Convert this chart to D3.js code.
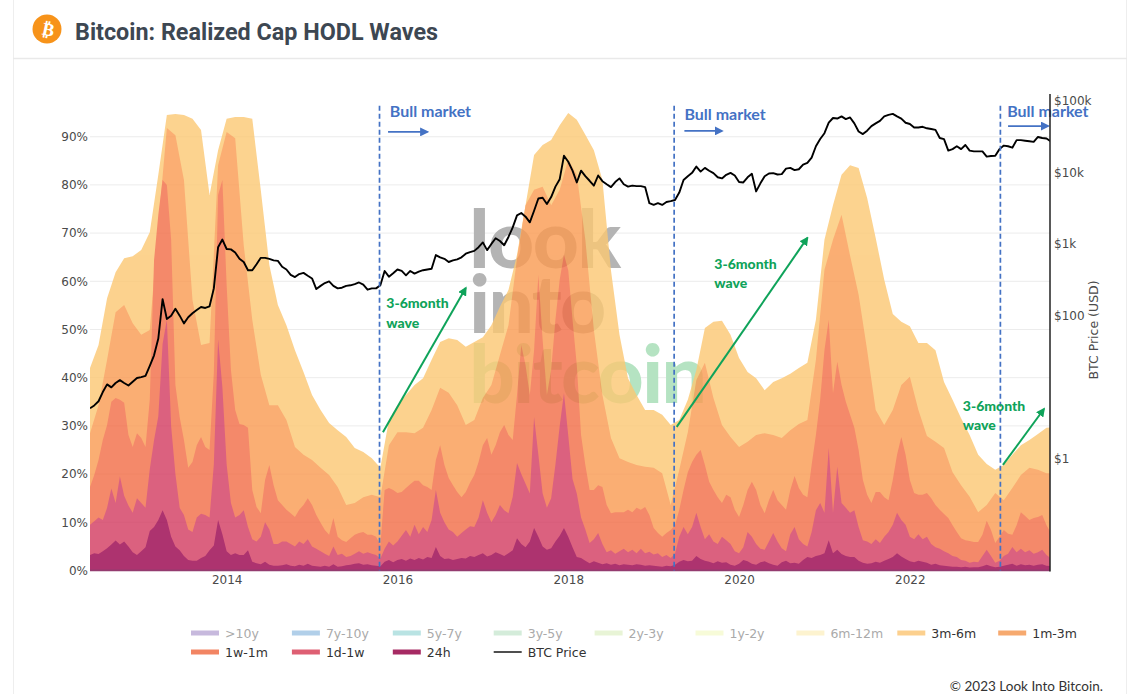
<!DOCTYPE html>
<html><head><meta charset="utf-8">
<script src="https://cdn.jsdelivr.net/npm/d3@7"></script>
<style>
html,body{margin:0;padding:0;background:#fff;overflow:hidden}
svg{display:block}
.domain{display:none}
.axisText text{font-family:"DejaVu Sans",sans-serif;font-size:12px;fill:#4a4a4a}
</style></head><body>
<svg id="chart" width="1140" height="694"></svg>
<script>
// ---- Data (cumulative band tops in %, BTC in USD) ----
const startYear = 2012.4;
const top3m6m = [42,46.8,56.5,61.9,64.8,65.2,66.5,70.2,82.1,94.5,94.7,94.5,93.7,91.4,77.9,87.2,93.7,94.1,94.1,93.7,78.9,63.4,55.1,50.9,45.7,41.2,36.4,33.3,30.6,29.1,27.7,25.4,24.6,23.3,21.3,
31.2,34.3,36.4,38.5,39.9,43.7,47.4,48.2,47.8,46.4,47.4,48.4,50.9,54.7,58.2,65.5,75.8,86.2,88.3,89.3,92.4,94.9,93.5,90.4,87.2,81,62.3,48.9,39.9,36.4,33.3,33.3,32.3,30.2,
31.2,35.4,41.6,50.3,51.6,51.8,48.9,44.1,41.2,39.9,37.4,39.1,39.9,40.8,42,43.1,52,68.6,75.8,82.1,84.1,83.5,77.3,69,60.3,53.2,51.6,50.7,47.2,47.2,45.7,39.1,35.4,31.6,28.1,24,22.1,20.9,21.9,24,26,27.1,28.3,29.6,29.8];
const top1m3m = [28.5,34.3,43.7,53.6,55.1,51.3,48.9,49.9,71.7,91.8,90.3,81,56.1,46.8,47.2,84.1,91,89.7,67.5,52,40.6,34.3,34.3,31.2,25.6,24,22.9,21.3,19.8,17.3,13.6,14,15.2,15.7,15.2,
26,28.7,28.7,28.5,29.6,33.3,37.9,36.9,34.3,30.2,31.2,35.8,38.5,44.7,50.9,64.8,75.8,79,79.6,75.8,79,85.2,82.1,68.6,49.9,36.4,27.5,23.3,22.5,21.9,21.5,21.3,20.2,13.6,
20.9,28.7,39.5,43.1,35.8,30.2,27.7,25.6,26.7,28.1,28.5,28.1,27.5,29.1,30.4,31.2,43.7,62.4,68.6,73.8,65.3,57.2,45.7,33.3,30.2,33.3,38.5,40.2,33.3,27.9,26.7,25.4,20.4,17.7,15.3,12.1,13.6,16.1,14.6,17.1,19.8,21.3,20.9,20.2,20.2];
const top1w1m = [17.3,19.8,22.9,27.1,30.2,35,35.8,35.4,34.8,28.1,25.6,28.5,27.5,25.6,35.4,64.4,73.8,81,80,68.6,38.5,31.8,27.1,21.3,22.5,26,27.7,25.6,25,41,77.9,81,59.2,41.6,33.3,30.4,30.2,29.6,16.7,13.2,11.9,18.8,21.9,17.7,14.6,13.6,12.6,11.9,11.1,12.6,13.6,15,13.6,11.5,9.9,8.4,7.4,10.9,7,6.3,5.9,6.7,7.4,7.8,8,7.4,7.4,7,5.3,
16.7,17.1,16.7,16.1,16.3,17.1,17.9,18.6,18.6,17.7,17.3,16.7,22.9,26,21.9,19.2,17.7,16.3,15.2,16.3,18.2,19.8,22.5,26,27.5,24,26,28.7,30.2,28.1,27.1,36.4,46.8,42.6,36.4,45.7,61.3,47.8,36.4,41.6,52,60.3,65.5,62.3,52,42.6,28.1,21.9,16.7,16.7,17.7,17.3,13.6,11.9,12.1,12.1,12.1,12.6,12.1,13,12.6,13.2,11.5,8.8,7.8,7,7.8,8.4,9.4,12.6,16.7,20.4,22.5,24,25,21.9,18.4,16.7,15.2,14,15.7,15.2,12.6,11.1,13.6,16.7,18.4,16.7,13.6,11.9,14.6,16.7,14.6,13.6,12.6,16.7,19.6,17.1,15.7,15.2,21.9,28.1,35.4,45.7,52,36.8,43.3,38.5,35,32.3,29.6,25,18.8,15.7,14,16.3,16.3,15.2,14.6,18.8,24,27.7,24,18.8,16.1,15.7,15.7,16.1,15,13.6,12.6,11.7,10.9,9.4,8,6.7,6.3,6.1,5.9,5.9,7.4,10.3,8.4,5.7,7,8.4,7.6,7.4,9.4,12.1,11.3,10.5,10.9,11.1,11.5,9.4,7.8];
const top1d1w = [9.5,10.2,11,10.5,13,17,14,19.5,15.5,13.5,12,15,14,13,21,27,32,47,52,30,20,13,11.5,8.5,8,11,11.8,11.5,11,22,48,38,22,14,11,11.5,12.5,9,6.5,6,7,10,8.5,5.5,5.5,6,6,5.5,5,6,5.5,6.5,5,4.5,4,3.5,3,5,3.2,3.5,2.8,3,3.5,4,3.5,3.8,3.5,3.2,2.5,
4.5,6,5.2,6,7.2,8.4,7,9.5,7.5,9,8,10.5,16.7,12,10,8.5,8,7,7.8,8.5,9.2,9,11,14.6,12,10,11.5,13.6,12.5,11.9,15.3,22.3,20,18,16,31.8,24,16,13,15,22,30,36.8,28,19,16,11,8.5,5.7,6.5,7.8,5.5,3.8,4.2,3.5,4,4.5,3.8,4.3,3.6,4.5,3.6,3.9,3.3,3.6,2.8,3.2,2.6,3.5,7,9,7.5,9,12,9,6.5,7.5,6,5.5,7,6.3,5.5,4,3.6,4.8,8,7,5.5,4.5,4.3,6,7.8,6,4.6,4,7.5,9,6.5,5.5,5,8,12.5,14,12,25.4,12,21.5,14,13,12,12.5,9,6.3,6,5.5,6.5,5.7,7,8,9.5,12,10.5,9.5,7,6.5,7.5,6.5,7,5.5,4.8,4.5,4,3.6,3,2.8,2.2,2,1.6,1.8,1.7,3,4.3,3,1.6,2,3,3.5,4.9,3.8,4.5,3.8,4.2,3.5,3.8,4.3,3.2,2.5];
const top24h = [3.2,3.6,3.4,4,4.6,5.4,6.2,5.4,6,5,3.8,3.2,4,4.8,8.2,9,10.5,12.5,10.5,7,5,4.2,3,2.2,2,2,2.6,3,4.2,5.2,10.5,7.5,4,3.2,3.6,3.2,3.2,4.2,1.8,1.5,
1.3,1.8,1.2,1,1,1.1,1.3,1,.9,1.2,1,1.4,1,.9,.8,1,.8,1.3,.8,.9,1.1,1.2,1.4,1.5,1.2,1.3,1.1,1,.9,
1.8,2.2,1.7,2.2,2.4,2,2.5,2.2,2.6,2.3,2.8,2.6,4.9,3,2.4,2.5,2.2,2.4,2.6,2.5,3,2.8,3.2,3.6,2.9,3.2,3.8,3.4,3,3.6,4.2,
6.7,5.5,4.8,6,8.8,7,5,4.3,4.6,6,7.2,8.8,7,4.8,2.8,2.6,2,1.5,1.9,1.6,1.3,1.5,1.2,1.4,1.1,1.3,1.2,1.1,1.3,1.2,1,
1.1,1,.9,.8,1,.9,1.2,1.8,2.2,1.9,2,3,2.4,2,1.8,1.5,1.9,1.6,1.7,1.2,1,1.4,2.2,1.9,1.4,1.2,1.7,1.9,1.5,1.2,1,1.7,2,1.5,1.6,1.4,2.2,2.8,
2.6,3,3.2,3.6,6.3,3.6,4.3,3.4,3,2.8,2.8,2,1.6,1.4,1.5,1.8,1.6,2,2.4,2.8,3.6,2.9,2.4,1.9,1.7,2,1.8,1.6,1.2,1.4,1.1,
1,.9,.8,.8,.7,.8,.6,.7,.7,.9,1.2,.9,.7,.8,1,1.2,1.4,1,1.3,1.1,1.2,1,1.2,1.3,1,.9];
const btcPrice = [5.1,5.6,6.4,8.6,11,10,11.5,12.6,11.5,10.6,12,13.5,13.9,14.5,20,28,48,170,90,100,125,100,78,95,108,120,132,128,135,240,900,1150,850,840,760,620,560,430,430,520,640,640,620,590,580,480,440,370,345,380,395,360,330,235,260,285,300,260,240,245,260,265,275,290,270,230,240,240,265,
420,350,390,440,420,365,420,385,410,430,440,450,700,650,620,560,590,610,650,730,770,800,900,1050,820,1000,1200,1100,960,1250,1700,2500,2700,2400,2000,2900,4300,4400,3600,4500,6300,8000,17000,14000,10500,7200,10500,8800,7600,6500,9000,7500,6800,6200,7300,8200,6800,6300,6500,6400,6400,6200,3700,3500,3700,3500,3850,3950,4100,5200,7800,8800,9800,12000,10200,11500,10500,9700,8500,8200,9200,9800,9000,7300,7200,8500,9500,5400,7000,8800,9600,9700,9300,9400,11200,11500,10700,11000,12800,13500,16000,23000,29000,35000,49000,57000,56000,60000,55000,58000,48000,37000,34000,38000,44000,48000,52000,60000,63000,65000,60000,56000,49000,47000,42000,42000,43000,41000,40000,39000,30000,29000,20000,21000,23000,21000,24000,20000,19500,19500,19500,16500,16800,17000,21000,23500,23000,22000,28000,28000,27500,27000,26500,31000,30000,29500,27000];

const pctTicks = [0,10,20,30,40,50,60,70,80,90];
const yearTicks = [2014,2016,2018,2020,2022];
const priceTicks = [1,100,1000,10000,100000];
const priceLabels = ["$1","$100","$1k","$10k","$100k"];
const legendNames = [">10y","7y-10y","5y-7y","3y-5y","2y-3y","1y-2y","6m-12m","3m-6m","1m-3m","1w-1m","1d-1w","24h","BTC Price"];
const legendColors = ["#c7b9dd","#b1cfe9","#b9e3e3","#d4ecda","#e8f4d6","#f7fbd8","#fdf3cf","#fcd08e","#f6a96f","#f28563","#de5f73","#a62a63","#222222"];
const legendActive = [false,false,false,false,false,false,false,true,true,true,true,true,true];
const bandColors = {m3:"#fcc873",m1:"#fa9a51",w1:"#f26c45",d1:"#d33a60",h24:"#99004c"};
const bullYears = [2015.79,2019.24,2023.06];
const bullLabels = [[2015.91,94.1],[2019.36,93.5],[2023.14,94.1]];
const blueArrows = [[2015.89,91,2016.35,91],[2019.36,91.2,2019.8,91.2],[2023.15,92.2,2023.62,92.2]];
const greenArrows = [[2015.83,28.7,2016.8,58.6],[2019.27,29.8,2020.8,69],[2023.09,21.9,2023.57,33.5]];
const waveLabels = [[2015.87,54.5,50.3],[2019.71,62.6,58.6],[2022.62,33.1,29.1]];
const watermarkWords = [["look",62.8,"#b4b4b4"],["into",49.2,"#b4b4b4"],["bitcoin",34.8,"#b5e3c2"]];

// ---- Layout ----
const L=90,R=1050,B=570.5,T=94;
const svg=d3.select("#chart");
const x=d3.scaleLinear().domain([2012.4,2023.641]).range([L,R]);
const y=d3.scaleLinear().domain([0,98.86]).range([B,T]);
const yP=d3.scaleLog().domain([Math.pow(10,-1.5607),Math.pow(10,5.0907)]).range([B+0.5,T]);
const defs=svg.append("defs");
defs.append("clipPath").attr("id","plot").append("rect").attr("x",L).attr("y",T).attr("width",R-L).attr("height",B-T+1);
function marker(id,color){
  defs.append("marker").attr("id",id).attr("viewBox","0 0 10 10").attr("refX",8).attr("refY",5)
    .attr("markerWidth",9).attr("markerHeight",9).attr("markerUnits","userSpaceOnUse").attr("orient","auto")
    .append("path").attr("d","M0,0L10,5L0,10Z").attr("fill",color);
}
marker("ab","#4472c4");marker("ag","#0fa35a");

// Card
svg.append("line").attr("x1",13.5).attr("x2",13.5).attr("y1",0).attr("y2",694).attr("stroke","#eeeeee");
svg.append("line").attr("x1",1126.5).attr("x2",1126.5).attr("y1",0).attr("y2",694).attr("stroke","#eeeeee");
svg.append("line").attr("x1",13).attr("x2",1127).attr("y1",58.5).attr("y2",58.5).attr("stroke","#e9e9e9").attr("stroke-width",1.5);
svg.append("circle").attr("cx",47).attr("cy",29).attr("r",14.5).attr("fill","#f7931a");
svg.append("text").attr("transform","translate(47,35.5) rotate(12)").attr("text-anchor","middle")
  .attr("font-family","DejaVu Sans").attr("font-weight",700).attr("font-size",18).attr("fill","#fff").text("₿");
svg.append("text").attr("x",75).attr("y",40).attr("font-family","Roboto").attr("font-weight",700)
  .attr("font-size",24.5).attr("fill","#3d4752").attr("textLength",363).attr("lengthAdjust","spacingAndGlyphs").text("Bitcoin: Realized Cap HODL Waves");

// Grid
svg.append("g").selectAll("line").data(pctTicks.slice(1)).join("line")
  .attr("x1",L).attr("x2",R).attr("y1",d=>y(d)).attr("y2",d=>y(d)).attr("stroke","#ececec");

// Watermark sits under the translucent bands
const wm=svg.append("g").attr("font-family","Lato").attr("font-weight",900).attr("font-size",80).attr("letter-spacing","-1.5");
watermarkWords.forEach(w=>wm.append("text").attr("x",x(2016.84)).attr("y",y(w[1])).attr("fill",w[2]).text(w[0]));

// Bands: painted as one translucent group, so no seams and the watermark shows through
const plot=svg.append("g").attr("clip-path","url(#plot)").attr("opacity",.8);
const coarse=(d,i)=>startYear+i*0.1, fine=(d,i)=>startYear+i*0.05;
function band(vals,xf,col){
  plot.append("path").datum(vals).attr("fill",col)
    .attr("d",d3.area().x((d,i)=>x(xf(d,i))).y0(y(0)).y1(d=>y(d)));
}
band(top3m6m,coarse,bandColors.m3);
band(top1m3m,coarse,bandColors.m1);
band(top1w1m,fine,bandColors.w1);
band(top1d1w,fine,bandColors.d1);
band(top24h,fine,bandColors.h24);
plot.append("line").attr("x1",L).attr("x2",R).attr("y1",y(0)).attr("y2",y(0)).attr("stroke","#7a0a4c").attr("stroke-width",2);

// BTC line
const line=svg.append("g").attr("clip-path","url(#plot)");
line.append("path").datum(btcPrice).attr("fill","none").attr("stroke","#000").attr("stroke-width",1.9).attr("stroke-linejoin","round")
  .attr("d",d3.line().x((d,i)=>x(fine(d,i))).y(d=>yP(d)));

// Annotations
svg.append("g").selectAll("line").data(bullYears).join("line")
  .attr("x1",d=>x(d)).attr("x2",d=>x(d)).attr("y1",y(96.4)).attr("y2",y(0))
  .attr("stroke","#4472c4").attr("stroke-width",1.7).attr("stroke-dasharray","5 3");
svg.append("g").selectAll("text").data(bullLabels).join("text")
  .attr("x",d=>x(d[0])).attr("y",d=>y(d[1])).attr("font-family","Lato").attr("font-weight",700).attr("font-size",16).attr("fill","#4472c4").text("Bull market");
svg.append("g").selectAll("line").data(blueArrows).join("line")
  .attr("x1",d=>x(d[0])).attr("y1",d=>y(d[1])).attr("x2",d=>x(d[2])).attr("y2",d=>y(d[3]))
  .attr("stroke","#4472c4").attr("stroke-width",1.6).attr("marker-end","url(#ab)");
svg.append("g").selectAll("line").data(greenArrows).join("line")
  .attr("x1",d=>x(d[0])).attr("y1",d=>y(d[1])).attr("x2",d=>x(d[2])).attr("y2",d=>y(d[3]))
  .attr("stroke","#0fa35a").attr("stroke-width",2).attr("marker-end","url(#ag)");
waveLabels.forEach(d=>{
  const g=svg.append("g").attr("font-family","Lato").attr("font-weight",900).attr("font-size",14).attr("fill","#0fa35a");
  g.append("text").attr("x",x(d[0])).attr("y",y(d[1])).text("3-6month");
  g.append("text").attr("x",x(d[0])).attr("y",y(d[2])).text("wave");
});

// Axes
svg.append("g").attr("class","axisText").attr("transform",`translate(${L},0)`)
  .call(d3.axisLeft(y).tickValues(pctTicks).tickSize(0).tickPadding(2).tickFormat(d=>d+"%"));
svg.append("g").attr("class","axisText").attr("transform",`translate(0,${B})`)
  .call(d3.axisBottom(x).tickValues(yearTicks).tickSize(0).tickPadding(5).tickFormat(d3.format("d")));
svg.append("g").attr("class","axisText").attr("transform",`translate(${R},0)`)
  .call(d3.axisRight(yP).tickValues(priceTicks).tickSize(0).tickPadding(4).tickFormat(d=>priceLabels[priceTicks.indexOf(d)]));
svg.append("line").attr("x1",R).attr("x2",R).attr("y1",T).attr("y2",B+1).attr("stroke","#222").attr("stroke-width",1.5);
svg.append("text").attr("transform","translate(1098,330) rotate(-90)").attr("text-anchor","middle")
  .attr("font-family","DejaVu Sans").attr("font-size",12.5).attr("fill","#4a4a4a").text("BTC Price (USD)");

// Legend
const lg=svg.append("g");
legendNames.forEach((n,i)=>{
  const row=i<9?0:1, col=i<9?i:i-9;
  const lx=191+col*100.9, ly=row?652:633;
  lg.append("line").attr("x1",lx).attr("x2",lx+28).attr("y1",ly).attr("y2",ly)
    .attr("stroke",legendColors[i]).attr("stroke-width",n==="BTC Price"?1.6:5);
  lg.append("text").attr("x",lx+34).attr("y",ly+4.5).attr("font-family","DejaVu Sans").attr("font-size",12.5)
    .attr("fill",legendActive[i]?"#333":"#aaaaaa").text(n);
});
svg.append("text").attr("x",1103).attr("y",691).attr("text-anchor","end").attr("font-family","Lato").attr("font-size",13.5).attr("fill","#333").text("© 2023 Look Into Bitcoin.");
</script>
</body></html>
